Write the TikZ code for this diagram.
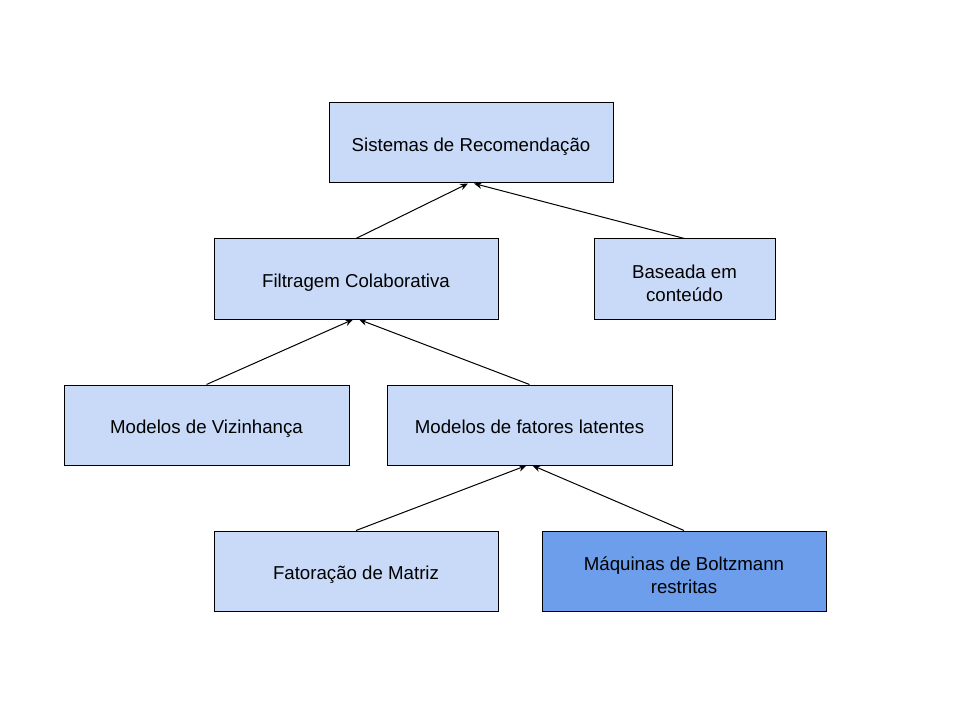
\documentclass[tikz,border=0pt]{standalone}
\usepackage{fontspec}
\setmainfont{Liberation Sans}
\usetikzlibrary{arrows.meta,calc}
\definecolor{lightbox}{HTML}{C9DAF8}
\definecolor{darkbox}{HTML}{6D9EEB}
\newcommand{\tallstrut}{\rule{0pt}{20pt}}
\begin{document}
\begin{tikzpicture}[x=0.75pt,y=-0.75pt,
  box/.style={draw=black,line width=0.75pt,fill=lightbox,minimum height=80*0.75pt,inner sep=0pt,align=center,font=\fontsize{14pt}{17.25pt}\selectfont,execute at begin node={\rule{0pt}{16.5pt}},execute at end node={\rule[-4pt]{0pt}{4pt}}},
  conn/.style={draw=black,line width=0.75pt,-{Stealth[length=6pt,width=5pt]}}]
\useasboundingbox (0,0) rectangle (960,720);
\node[box,minimum width=284*0.75pt] (sr) at (471,143) {Sistemas de Recomendação};
\node[box,minimum width=284*0.75pt] (fc) at (356,279) {Filtragem Colaborativa};
\node[box,minimum width=181*0.75pt] (bc) at (684.5,279) {\tallstrut Baseada em\\conteúdo};
\node[box,minimum width=285*0.75pt] (mv) at (206.5,425) {Modelos de Vizinhança};
\node[box,minimum width=285*0.75pt] (ml) at (529.5,425) {Modelos de fatores latentes};
\node[box,minimum width=284*0.75pt] (fm) at (356,571) {Fatoração de Matriz};
\node[box,minimum width=284*0.75pt,fill=darkbox] (mb) at (684,571) {\tallstrut Máquinas de Boltzmann\\restritas};
\draw[conn] (fc.north) -- ($(sr.south)+(-3,0)$);
\draw[conn] (bc.north) -- ($(sr.south)+(3,0)$);
\draw[conn] (mv.north) -- ($(fc.south)+(-3,0)$);
\draw[conn] (ml.north) -- ($(fc.south)+(3,0)$);
\draw[conn] (fm.north) -- ($(ml.south)+(-3,0)$);
\draw[conn] (mb.north) -- ($(ml.south)+(3,0)$);
\end{tikzpicture}
\end{document}
